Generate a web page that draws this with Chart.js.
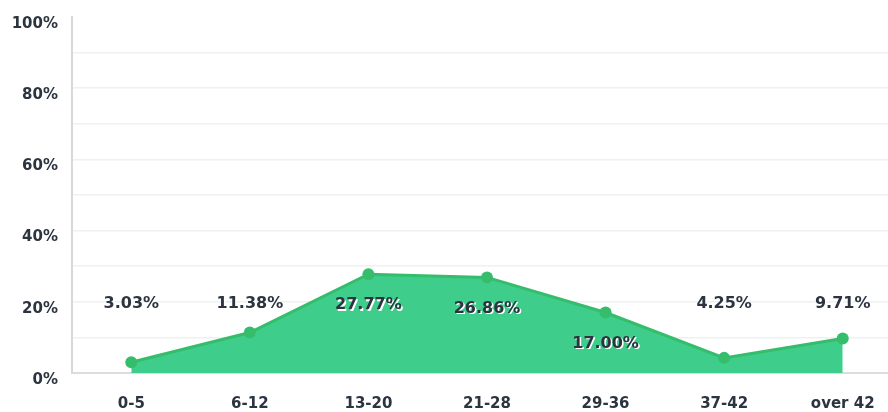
<!DOCTYPE html>
<html>
<head>
<meta charset="utf-8">
<script src="https://cdn.jsdelivr.net/npm/chart.js@4/dist/chart.umd.min.js"></script>
<style>
  html, body { margin: 0; padding: 0; background: #fff; overflow: hidden; }
  #wrap { width: 902px; height: 412px; }
</style>
</head>
<body>
<div id="wrap"><canvas id="chart" width="902" height="412"></canvas></div>
<script>
const CATEGORIES = ['0-5', '6-12', '13-20', '21-28', '29-36', '37-42', 'over 42'];
const SHARES = [3.03, 11.38, 27.77, 26.86, 17.00, 4.25, 9.71];
const Y_TICKS = [0, 20, 40, 60, 80, 100];

const TEXT = '#2c3440';
const FONT = '"DejaVu Sans", sans-serif';

// value labels: tall points get the label just below the point,
// the small ones sit on a common line around 20%
const valueLabels = {
  id: 'valueLabels',
  afterDatasetsDraw(chart) {
    const ctx = chart.ctx;
    const yScale = chart.scales.y;
    const meta = chart.getDatasetMeta(0);
    const shelf = yScale.getPixelForValue(19.4);
    ctx.save();
    ctx.font = 'bold 16px ' + FONT;
    ctx.textAlign = 'center';
    ctx.textBaseline = 'middle';
    ctx.shadowColor = '#ffffff';
    ctx.shadowOffsetX = 1.5;
    ctx.shadowOffsetY = 1.5;
    ctx.fillStyle = TEXT;
    meta.data.forEach((pt, i) => {
      const y = SHARES[i] >= 15 ? pt.y + 31 : shelf;
      ctx.fillText(SHARES[i].toFixed(2) + '%', pt.x, y);
    });
    ctx.restore();
  }
};

new Chart(document.getElementById('chart').getContext('2d'), {
  type: 'line',
  data: {
    labels: CATEGORIES,
    datasets: [{
      data: SHARES,
      borderColor: '#35bd6c',
      backgroundColor: '#3ecd8b',
      borderWidth: 3,
      fill: 'origin',
      tension: 0,
      pointRadius: 6,
      pointHoverRadius: 6,
      pointBackgroundColor: '#35bd6c',
      pointBorderWidth: 0
    }]
  },
  options: {
    responsive: false,
    animation: false,
    layout: { autoPadding: false, padding: { top: 17, left: 0, right: 0, bottom: 0 } },
    plugins: { legend: { display: false }, tooltip: { enabled: false } },
    scales: {
      x: {
        offset: true,
        grid: { display: false },
        border: { color: '#dcdcdc', width: 2 },
        ticks: { color: TEXT, font: { family: FONT, size: 15, weight: 'bold' }, padding: 14 },
        afterFit(scale) {
          scale.height = 39;
          scale.paddingLeft = 0;
          scale.paddingRight = 0;
        }
      },
      y: {
        min: 0,
        max: 100,
        grid: {
          drawTicks: false,
          color: ctx => (ctx.tick && ctx.tick.value === 100) ? 'rgba(0,0,0,0)' : '#eef1f1',
          lineWidth: 1.5
        },
        border: { color: '#d8d8d8', width: 2 },
        ticks: {
          stepSize: 10,
          padding: 14,
          labelOffset: 7,
          color: TEXT,
          font: { family: FONT, size: 15, weight: 'bold' },
          callback: v => Y_TICKS.includes(v) ? v + '%' : ''
        },
        afterFit(scale) {
          scale.width = 72;
          scale.paddingTop = 0;
          scale.paddingBottom = 0;
        }
      }
    }
  },
  plugins: [valueLabels]
});
</script>
</body>
</html>
